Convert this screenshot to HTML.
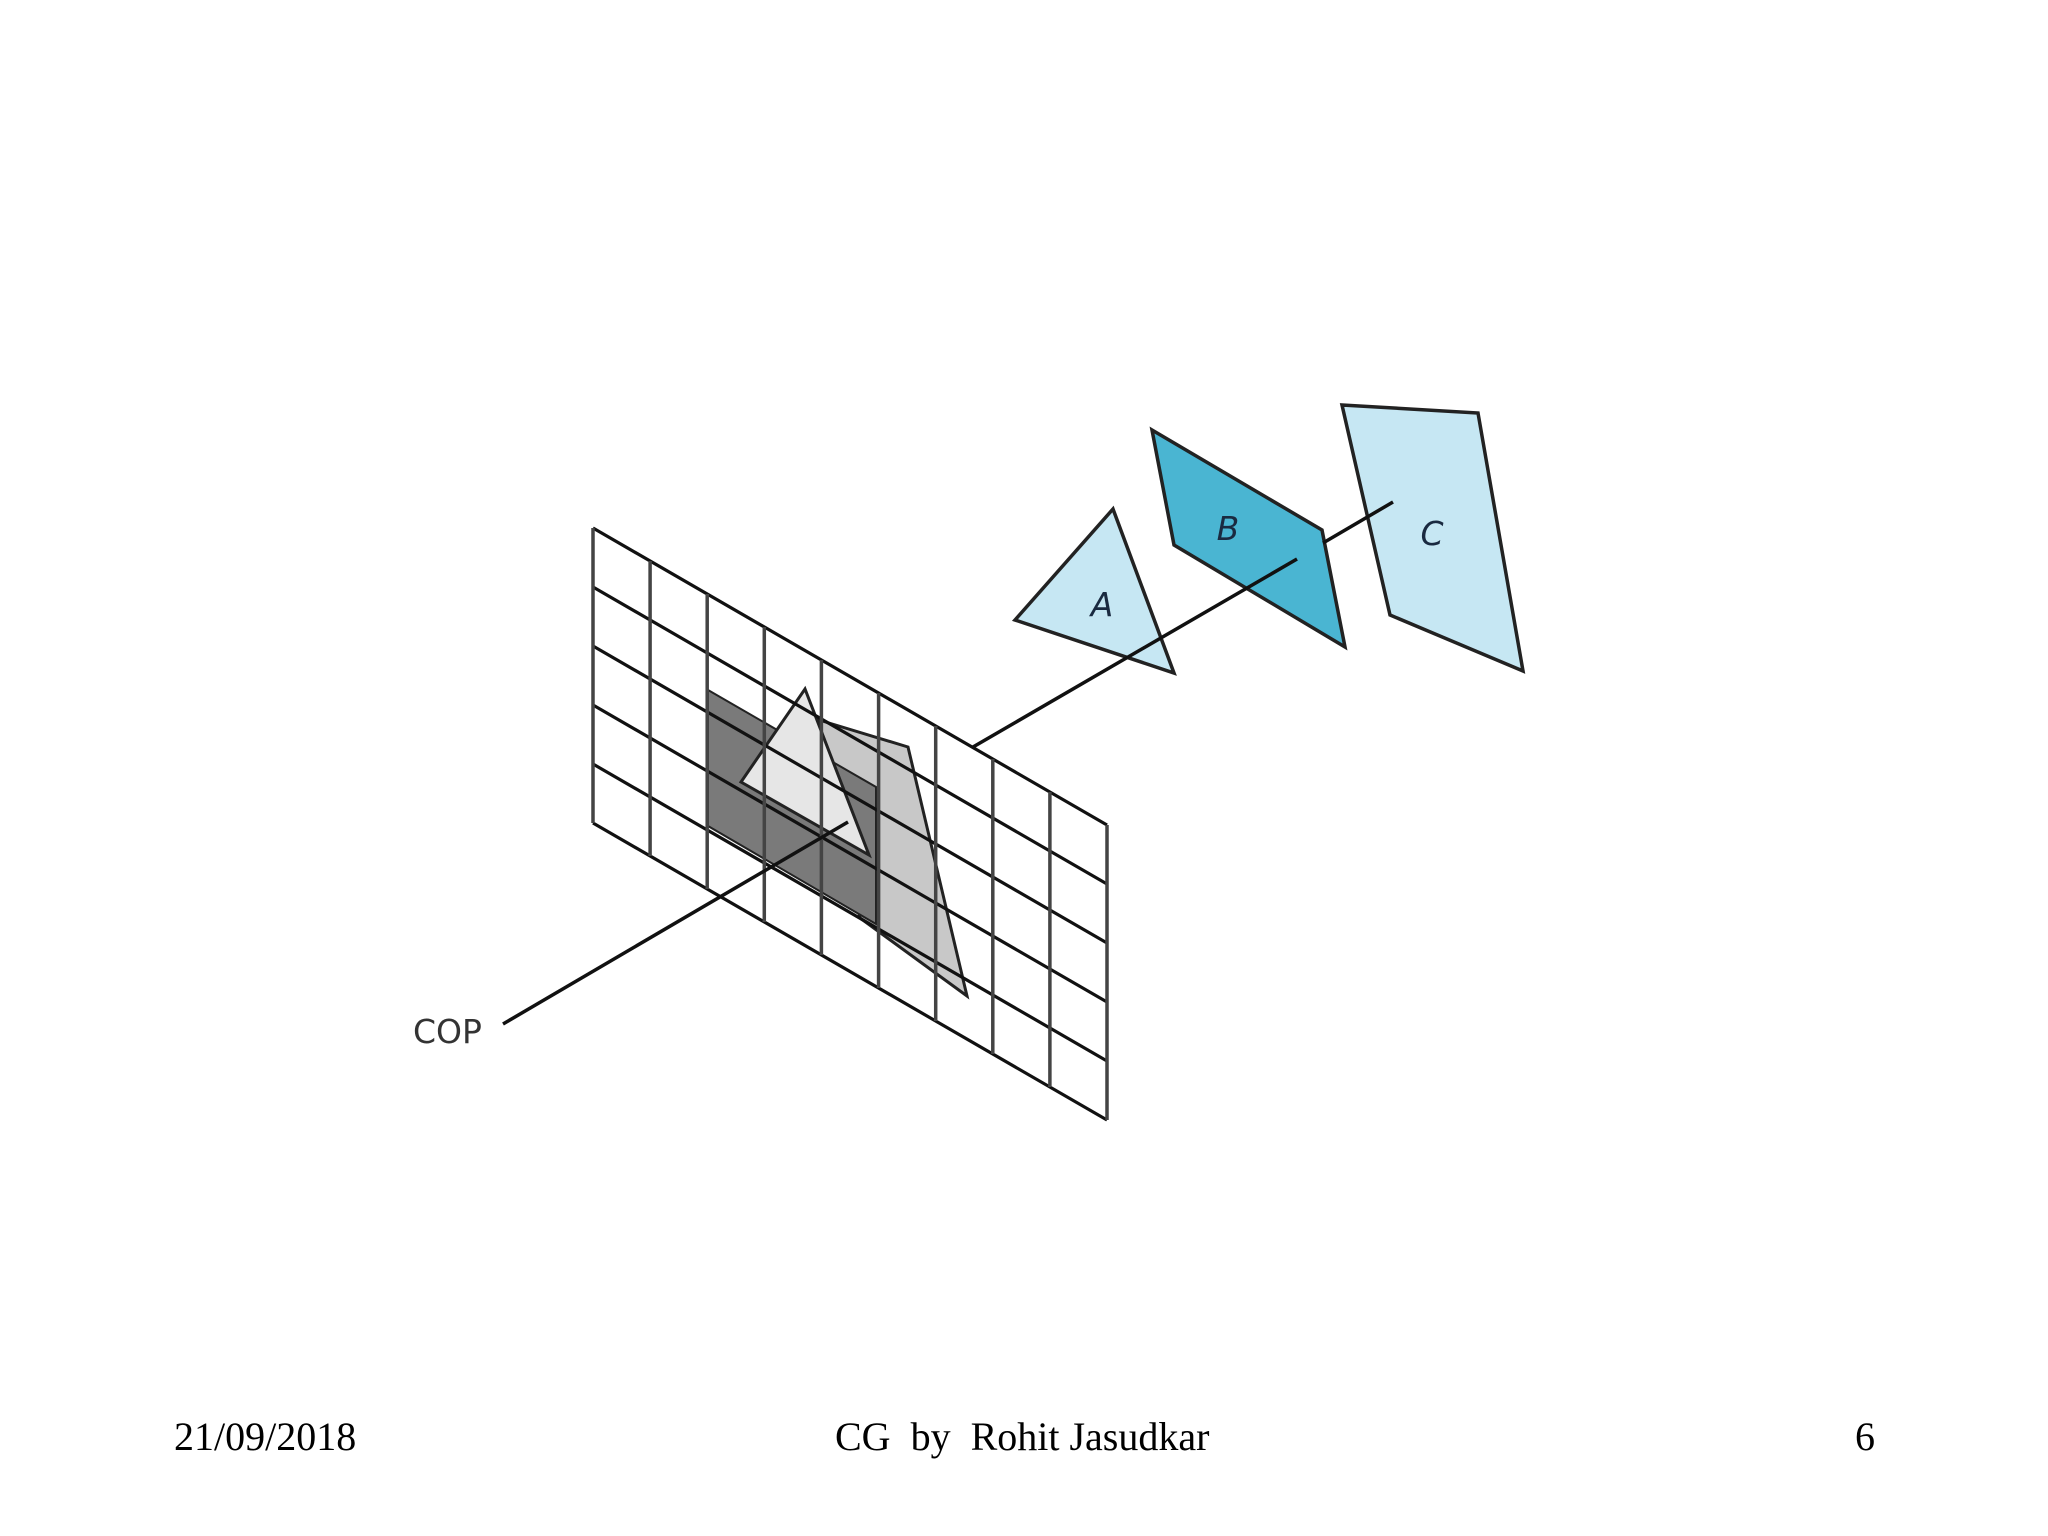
<!DOCTYPE html>
<html><head><meta charset="utf-8"><style>
html,body{margin:0;padding:0;background:#fff;}
svg{display:block;}
</style></head><body>
<svg width="2048" height="1536" viewBox="0 0 2048 1536" xmlns="http://www.w3.org/2000/svg">
<rect width="2048" height="1536" fill="#fff"/>
<!-- projections on grid -->
<polygon points="819,720 908,747 967,996 860,918" fill="#c8c8c8" stroke="#222" stroke-width="3"/>
<polygon points="708,690 876,787 876,924 708,826" fill="#7a7a7a" stroke="#222" stroke-width="2"/>
<polygon points="805,689 741,782 869,855" fill="#e6e6e6" stroke="#222" stroke-width="3"/>
<!-- grid -->
<g stroke="#111" stroke-width="3.2" fill="none">
<line x1="593" y1="528" x2="1107" y2="825"/>
<line x1="593" y1="587" x2="1107" y2="884"/>
<line x1="593" y1="646" x2="1107" y2="943"/>
<line x1="593" y1="705" x2="1107" y2="1002"/>
<line x1="593" y1="764" x2="1107" y2="1061"/>
<line x1="593" y1="823" x2="1107" y2="1120"/>
</g>
<g stroke="#444" stroke-width="3.5" fill="none">
<line x1="593.0" y1="528.0" x2="593.0" y2="823.0"/>
<line x1="650.1" y1="561.0" x2="650.1" y2="856.0"/>
<line x1="707.2" y1="594.0" x2="707.2" y2="889.0"/>
<line x1="764.3" y1="627.0" x2="764.3" y2="922.0"/>
<line x1="821.4" y1="660.0" x2="821.4" y2="955.0"/>
<line x1="878.6" y1="693.0" x2="878.6" y2="988.0"/>
<line x1="935.7" y1="726.0" x2="935.7" y2="1021.0"/>
<line x1="992.8" y1="759.0" x2="992.8" y2="1054.0"/>
<line x1="1049.9" y1="792.0" x2="1049.9" y2="1087.0"/>
<line x1="1107.0" y1="825.0" x2="1107.0" y2="1120.0"/>
</g>
<!-- COP ray -->
<line x1="503" y1="1024" x2="848" y2="822" stroke="#111" stroke-width="3.5"/>
<text x="413" y="1043" font-family="DejaVu Sans, sans-serif" font-size="33" fill="#333">COP</text>
<!-- objects -->
<polygon points="1342,405 1478,413 1523,671 1390,615" fill="#c6e7f3" stroke="#222" stroke-width="3.5"/>
<polygon points="1152,430 1322,530 1345,647 1174,545" fill="#4ab5d2" stroke="#222" stroke-width="3.5"/>
<polygon points="1113,509 1015,620 1174,673" fill="#c6e7f3" stroke="#222" stroke-width="3.5"/>
<line x1="973" y1="747" x2="1297" y2="559" stroke="#111" stroke-width="3.5"/>
<line x1="1323" y1="543" x2="1393" y2="502" stroke="#111" stroke-width="3.5"/>
<g font-family="DejaVu Sans, sans-serif" font-size="33" font-style="italic" fill="#1a2a40" text-anchor="middle">
<text x="1102" y="616">A</text>
<text x="1228" y="540">B</text>
<text x="1432" y="545">C</text>
</g>
<!-- footer -->
<g font-family="Liberation Serif, serif" font-size="40" fill="#000">
<text x="174" y="1450">21/09/2018</text>
<text x="835" y="1450" xml:space="preserve">CG  by  Rohit Jasudkar</text>
<text x="1855" y="1450">6</text>
</g>
</svg>
</body></html>
